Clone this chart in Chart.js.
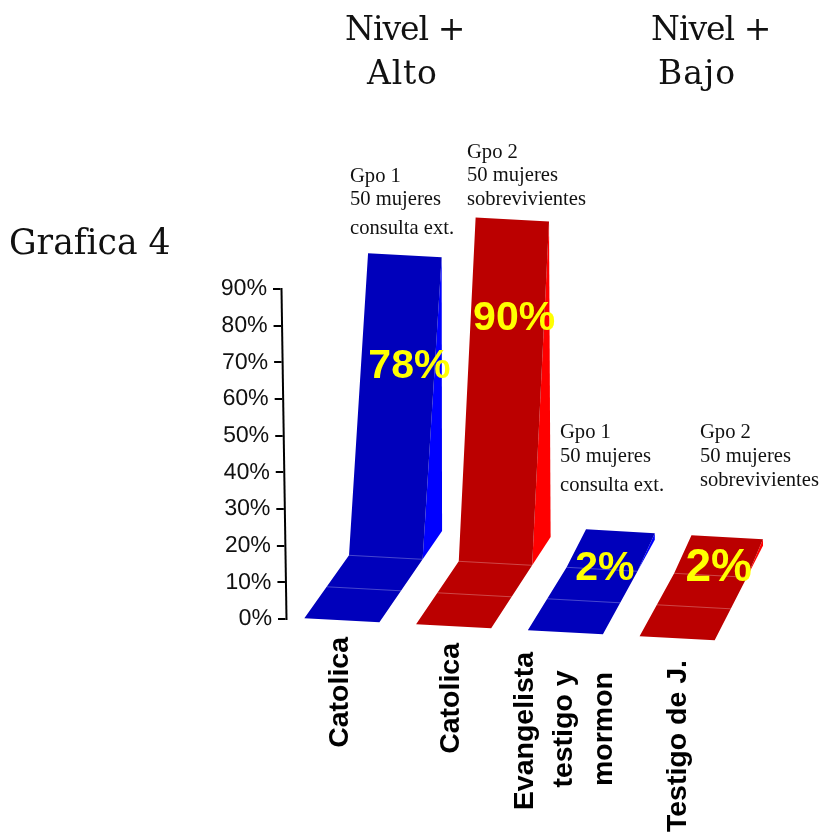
<!DOCTYPE html>
<html lang="es">
<head>
<meta charset="utf-8">
<title>Grafica 4</title>
<script src="https://cdn.jsdelivr.net/npm/chart.js@4/dist/chart.umd.js"></script>
<style>
  html, body { margin: 0; padding: 0; background: #fff; }
  canvas { display: block; }
</style>
</head>
<body>
<canvas id="chart" width="823" height="834"></canvas>
<script>
// Data
const categories = ['Catolica', 'Catolica', ['Evangelista', 'testigo y', 'mormon'], 'Testigo de J.'];
const percentages = [78, 90, 2, 2];
const yTicks = [0, 10, 20, 30, 40, 50, 60, 70, 80, 90];
const faceColors = ['#0000bb', '#bb0000', '#0000bb', '#bb0000'];
const sideColors = ['#0000ff', '#ff0000', '#0000ff', '#ff0000'];
const groupNotes = [
  ['Gpo 1', '50 mujeres', 'consulta ext.'],
  ['Gpo 2', '50 mujeres', 'sobrevivientes'],
  ['Gpo 1', '50 mujeres', 'consulta ext.'],
  ['Gpo 2', '50 mujeres', 'sobrevivientes']
];
const headings = [['Nivel +', 'Alto'], ['Nivel +', 'Bajo']];
const chartName = 'Grafica 4';

// Depth projection of each ribbon: one receding cell per column, left and right edge
const FLOOR_CELLS = 2;
const rampCells = [0, 0, 1, 1];
const cellRunLeft = [22.35, 21.35, 19.4, 17.3];
const cellRunRight = [21.6, 20.5, 17.3, 16.1];
const CELL_RISE = -31.5;

class SlabElement extends Chart.BarElement {
  static id = 'slab';
  static defaults = Chart.BarElement.defaults;

  draw(ctx) {
    const i = this.$context.dataIndex;
    const left = this.x - this.width / 2 + 2.5;
    const baseY = this.base + 0.3 + 6 * i;
    const frontL = [left, baseY];
    const frontR = [left + this.width, baseY + 4];
    const cellL = [cellRunLeft[i], CELL_RISE];
    const cellR = [cellRunRight[i], CELL_RISE];
    const along = (p, c, n) => [p[0] + c[0] * n, p[1] + c[1] * n];

    const flat = rampCells[i] > 0;
    const midL = along(frontL, cellL, 1), midR = along(frontR, cellR, 1);
    const creaseL = along(frontL, cellL, FLOOR_CELLS), creaseR = along(frontR, cellR, FLOOR_CELLS);
    const backL = along(creaseL, cellL, 1);
    const backR = along(creaseR, cellR, flat ? 1 : 0.9);

    const rise = (this.base - this.y) * (1.06 - 0.015 * i);
    const lean = flat ? 0 : rise * (0.063 - 0.014 * i);
    const topL = flat ? [backL[0], backL[1] - rise] : [creaseL[0] + lean, creaseL[1] - rise];
    const topR = flat ? [backR[0], backR[1] - rise] : [creaseR[0] + lean, creaseR[1] - rise];

    const fill = (pts, color) => {
      ctx.beginPath();
      pts.forEach((p, k) => (k ? ctx.lineTo(p[0], p[1]) : ctx.moveTo(p[0], p[1])));
      ctx.closePath();
      ctx.fillStyle = color;
      ctx.fill();
    };
    const seam = (a, b) => {
      ctx.beginPath();
      ctx.moveTo(a[0], a[1]);
      ctx.lineTo(b[0], b[1]);
      ctx.strokeStyle = 'rgba(255,255,255,0.28)';
      ctx.lineWidth = 1;
      ctx.stroke();
    };

    ctx.save();
    fill([creaseR, backR, topR], this.options.borderColor);
    fill([frontL, frontR, creaseR, topR, topL, creaseL], this.options.backgroundColor);
    seam(midL, midR);
    seam(creaseL, creaseR);
    ctx.restore();
  }
}

class SlabController extends Chart.BarController {
  static id = 'slabBar';
  static defaults = { ...Chart.BarController.defaults, dataElementType: 'slab' };
  static overrides = Chart.BarController.overrides;
}

// Value axis that leans slightly to the right towards its foot
class LeaningLinearScale extends Chart.LinearScale {
  static id = 'leaningLinear';
  static defaults = Chart.LinearScale.defaults;

  _layers() {
    const shear = 0.0152;
    return super._layers().map(layer => ({
      z: layer.z,
      draw: area => {
        const ctx = this.ctx;
        ctx.save();
        ctx.transform(1, 0, shear, 1, -shear * 454, 0);
        layer.draw(area);
        ctx.restore();
      }
    }));
  }
}

Chart.register(SlabElement, SlabController, LeaningLinearScale);

const SANS = '"Liberation Sans", Arial, sans-serif';
const SERIF = '"Liberation Serif", "Times New Roman", serif';
const VERA = '"DejaVu Serif", serif';

function text(ctx, str, x, y, font, color, align, spacing) {
  ctx.font = font;
  ctx.fillStyle = color;
  ctx.textAlign = align || 'left';
  ctx.textBaseline = 'alphabetic';
  ctx.letterSpacing = spacing || '0px';
  ctx.fillText(str, x, y);
  ctx.letterSpacing = '0px';
}

// Percentage printed over each slab
const valueLabels = {
  id: 'valueLabels',
  afterDatasetsDraw(chart) {
    const ctx = chart.ctx;
    const spots = [[70, 378, 41], [63, 330, 41], [42, 580, 41], [44, 581, 46]];
    const bars = chart.getDatasetMeta(0).data;
    ctx.save();
    percentages.forEach((v, i) => {
      const [dx, y, size] = spots[i];
      text(ctx, v + '%', bars[i].x + dx, y, 'bold ' + size + 'px ' + SANS, '#ffff00', 'center');
    });
    ctx.restore();
  }
};

// Rotated category names under the floor of each slab
const categoryLabels = {
  id: 'categoryLabels',
  afterDraw(chart) {
    const ctx = chart.ctx;
    const x = chart.scales.x;
    const font = 'bold 28.5px ' + SANS;
    const place = (str, px, py, align) => {
      ctx.save();
      ctx.translate(px, py);
      ctx.rotate(-Math.PI / 2);
      text(ctx, str, 0, 0, font, '#000', align);
      ctx.restore();
    };
    const anchors = [
      { dx: [9], y: [637], align: 'right' },
      { dx: [7.5], y: [643], align: 'right' },
      { dx: [-30, 9, 49], y: [731, 729, 729], align: 'center' },
      { dx: [11], y: [660], align: 'right' }
    ];
    categories.forEach((label, i) => {
      const lines = Array.isArray(label) ? label : [label];
      const a = anchors[i];
      lines.forEach((line, k) => place(line, x.getPixelForTick(i) + a.dx[k], a.y[k], a.align));
    });
  }
};

// Headings and group notes around the plot
const annotations = {
  id: 'annotations',
  afterDraw(chart) {
    const ctx = chart.ctx;
    ctx.save();
    const headFont = '33px ' + VERA;
    text(ctx, headings[0][0], 345, 40, headFont, '#111', 'left', '-1px');
    text(ctx, headings[0][1], 367, 84, headFont, '#111', 'left', '0.8px');
    text(ctx, headings[1][0], 651, 40, headFont, '#111', 'left', '-1px');
    text(ctx, headings[1][1], 658, 84, headFont, '#111', 'left', '1px');
    text(ctx, chartName, 9, 254, '34.6px ' + VERA, '#111');

    const noteFont = '20.6px ' + SERIF;
    const notePlaces = [
      [350, [182, 205, 234]],
      [467, [158, 181, 205]],
      [560, [438, 462, 491]],
      [700, [438, 462, 486]]
    ];
    groupNotes.forEach((note, i) => {
      const [x, ys] = notePlaces[i];
      note.forEach((line, k) => text(ctx, line, x, ys[k], noteFont, '#111'));
    });
    ctx.restore();
  }
};

new Chart(document.getElementById('chart'), {
  type: 'slabBar',
  data: {
    labels: categories,
    datasets: [{
      data: percentages,
      clip: false,
      backgroundColor: faceColors,
      borderColor: sideColors,
      borderWidth: 0,
      categoryPercentage: 1,
      barPercentage: 0.672
    }]
  },
  options: {
    responsive: false,
    animation: false,
    events: [],
    layout: { padding: { top: 289, bottom: 215, left: 0, right: 92.5 } },
    plugins: { legend: { display: false }, tooltip: { enabled: false }, title: { display: false } },
    scales: {
      x: { type: 'category', display: false },
      y: {
        type: 'leaningLinear',
        min: 0,
        max: 90,
        afterFit(scale) { scale.width = 283.5; },
        afterBuildTicks(scale) { scale.ticks = yTicks.map(value => ({ value })); },
        border: { display: true, color: '#000', width: 2 },
        grid: { drawOnChartArea: false, drawTicks: true, tickLength: 8, color: '#000', lineWidth: 2 },
        ticks: {
          color: '#111',
          padding: 6,
          font: { family: SANS, size: 23 },
          callback: value => value + '%'
        }
      }
    }
  },
  plugins: [valueLabels, categoryLabels, annotations]
});
</script>
</body>
</html>
